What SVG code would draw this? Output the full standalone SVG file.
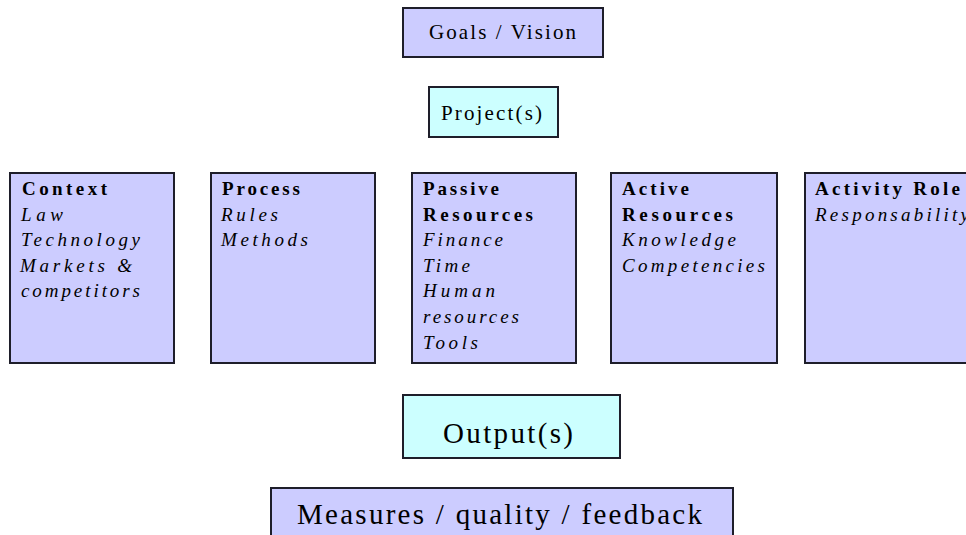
<svg xmlns="http://www.w3.org/2000/svg" width="966" height="535" viewBox="0 0 966 535">
<style>
  .lav { fill: #ccccff; stroke: #1e1e2a; stroke-width: 2; }
  .cyan { fill: #ccffff; stroke: #1e1e2a; stroke-width: 2; }
  text { font-family: "Liberation Serif", "Times New Roman", serif; fill: #000; }
  .big { font-size: 29px; }
  .mid { font-size: 21px; }
  .hd { font-size: 19px; font-weight: bold; }
  .it { font-size: 19px; font-style: italic; }
</style>
<rect width="966" height="535" fill="#ffffff"/>
<g id="connectors"/>
<g id="goals">
  <rect class="lav" x="403" y="8" width="200" height="49"/>
  <text class="mid" x="429" y="39" textLength="147" lengthAdjust="spacing">Goals / Vision</text>
</g>
<g id="projects">
  <rect class="cyan" x="429" y="87" width="129" height="50"/>
  <text class="mid" x="441" y="120" textLength="101" lengthAdjust="spacing">Project(s)</text>
</g>
<g id="context">
  <rect class="lav" x="10" y="173" width="164" height="190"/>
  <text class="hd" x="22" y="195" textLength="85" lengthAdjust="spacing">Context</text>
  <text class="it" x="21" y="221" textLength="42" lengthAdjust="spacing">Law</text>
  <text class="it" x="21" y="246" textLength="119" lengthAdjust="spacing">Technology</text>
  <text class="it" x="20" y="272" textLength="112" lengthAdjust="spacing">Markets &amp;</text>
  <text class="it" x="21" y="297" textLength="119" lengthAdjust="spacing">competitors</text>
</g>
<g id="process">
  <rect class="lav" x="211" y="173" width="164" height="190"/>
  <text class="hd" x="222" y="195" textLength="78" lengthAdjust="spacing">Process</text>
  <text class="it" x="221" y="221" textLength="57" lengthAdjust="spacing">Rules</text>
  <text class="it" x="221" y="246" textLength="87" lengthAdjust="spacing">Methods</text>
</g>
<g id="passive-resources">
  <rect class="lav" x="412" y="173" width="164" height="190"/>
  <text class="hd" x="423" y="195" textLength="76" lengthAdjust="spacing">Passive</text>
  <text class="hd" x="423" y="221" textLength="110" lengthAdjust="spacing">Resources</text>
  <text class="it" x="423" y="246" textLength="80" lengthAdjust="spacing">Finance</text>
  <text class="it" x="423" y="272" textLength="47" lengthAdjust="spacing">Time</text>
  <text class="it" x="423" y="297" textLength="72" lengthAdjust="spacing">Human</text>
  <text class="it" x="423" y="323" textLength="96" lengthAdjust="spacing">resources</text>
  <text class="it" x="423" y="349" textLength="55" lengthAdjust="spacing">Tools</text>
</g>
<g id="active-resources">
  <rect class="lav" x="611" y="173" width="166" height="190"/>
  <text class="hd" x="622" y="195" textLength="67" lengthAdjust="spacing">Active</text>
  <text class="hd" x="622" y="221" textLength="111" lengthAdjust="spacing">Resources</text>
  <text class="it" x="622" y="246" textLength="114" lengthAdjust="spacing">Knowledge</text>
  <text class="it" x="622" y="272" textLength="143" lengthAdjust="spacing">Competencies</text>
</g>
<g id="activity-role">
  <rect class="lav" x="805" y="173" width="180" height="190"/>
  <text class="hd" x="815" y="195" textLength="145" lengthAdjust="spacing">Activity Role</text>
  <text class="it" x="815" y="221" textLength="154" lengthAdjust="spacing">Responsability</text>
</g>
<g id="outputs">
  <rect class="cyan" x="403" y="395" width="217" height="63"/>
  <text class="big" x="443" y="443" textLength="130" lengthAdjust="spacing">Output(s)</text>
</g>
<g id="measures">
  <rect class="lav" x="271" y="488" width="462" height="60"/>
  <text class="big" x="297" y="524" textLength="405" lengthAdjust="spacing">Measures / quality / feedback</text>
</g>
</svg>
